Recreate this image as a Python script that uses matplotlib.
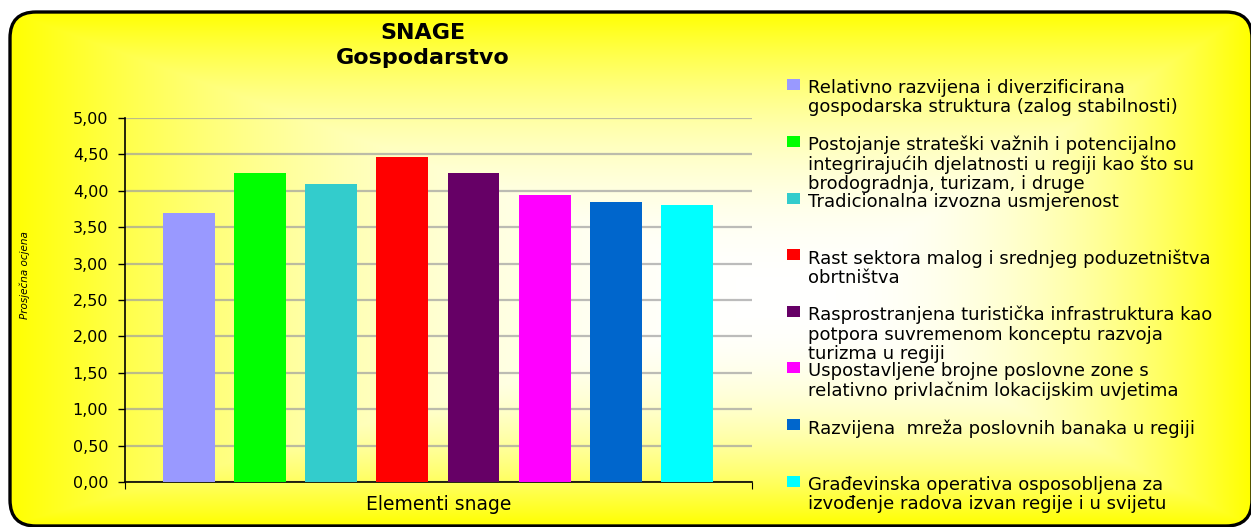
import numpy as np
import matplotlib
matplotlib.use("Agg")
import matplotlib.pyplot as plt
from matplotlib.patches import FancyBboxPatch, Rectangle
from matplotlib.ticker import FuncFormatter

# podaci
naslov = ["SNAGE", "Gospodarstvo"]
kategorija = "Elementi snage"
os_y = "Prosječna ocjena"
elementi = [
    "Relativno razvijena i diverzificirana\ngospodarska struktura (zalog stabilnosti)",
    "Postojanje strateški važnih i potencijalno\nintegrirajućih djelatnosti u regiji kao što su\nbrodogradnja, turizam, i druge",
    "Tradicionalna izvozna usmjerenost",
    "Rast sektora malog i srednjeg poduzetništva\nobrtništva",
    "Rasprostranjena turistička infrastruktura kao\npotpora suvremenom konceptu razvoja\nturizma u regiji",
    "Uspostavljene brojne poslovne zone s\nrelativno privlačnim lokacijskim uvjetima",
    "Razvijena  mreža poslovnih banaka u regiji",
    "Građevinska operativa osposobljena za\nizvođenje radova izvan regije i u svijetu",
]
ocjene = [3.70, 4.24, 4.10, 4.47, 4.24, 3.94, 3.85, 3.80]
boje = ["#9999ff", "#00ff00", "#33cccc", "#ff0000",
        "#660066", "#ff00ff", "#0066cc", "#00ffff"]

W, H = 1251, 527
fig = plt.figure(figsize=(W / 100, H / 100), dpi=100)

# pozadina - zuti gradijent od sredine prema rubu
bg = fig.add_axes([0, 0, 1, 1])
bg.set_xlim(0, W)
bg.set_ylim(H, 0)
bg.axis("off")

yy, xx = np.mgrid[0:H, 0:W] + 0.5
cx, cy = 800, 300
tx = np.where(xx < cx, (cx - xx) / 790, (xx - cx) / 450)
ty = np.where(yy < cy, (cy - yy) / 288, (yy - cy) / 225)
t = np.clip(np.maximum(tx, ty), 0, 1) ** 2.2
slika = np.dstack([np.ones_like(t), np.ones_like(t), 1 - t])
im = bg.imshow(slika, extent=(0, W, H, 0), aspect="auto", interpolation="bilinear")

okvir = FancyBboxPatch((10, 12), 1242, 514, boxstyle="round,pad=0,rounding_size=26",
                       facecolor="none", edgecolor="black", lw=2.4, zorder=5)
bg.add_patch(okvir)
im.set_clip_path(okvir)

# graf
ax = fig.add_axes([125 / W, 1 - 482 / H, (752 - 125) / W, (482 - 118) / H])
ax.set_facecolor("none")
x = np.arange(len(ocjene))
ax.bar(x, ocjene, width=0.73, color=boje, zorder=3)
ax.set_xlim(-0.896, 7.913)
ax.set_ylim(0, 5)
ax.set_yticks(np.arange(0, 5.01, 0.5))
ax.yaxis.set_major_formatter(FuncFormatter(lambda v, p: f"{v:.2f}".replace(".", ",")))
ax.grid(axis="y", color="#a0a0a0", lw=1.6, alpha=0.7, zorder=0)
ax.set_axisbelow(True)
for s in ["top", "right"]:
    ax.spines[s].set_visible(False)
for s in ["left", "bottom"]:
    ax.spines[s].set_color("black")
    ax.spines[s].set_linewidth(1.2)
ax.set_xticks(ax.get_xlim())
ax.tick_params(axis="x", length=5, direction="out", labelbottom=False)
ax.tick_params(axis="y", length=5, width=1, pad=7, labelsize=11.5)

fig.text(439 / W, 1 - 505 / H, kategorija, fontsize=13.5, ha="center", va="center")
fig.text(25 / W, 1 - 275 / H, os_y, rotation=90, style="italic", fontsize=7.5,
         ha="center", va="center")
fig.text(423 / W, 1 - 33 / H, naslov[0], fontsize=16, fontweight="bold",
         ha="center", va="center")
fig.text(423 / W, 1 - 58 / H, naslov[1], fontsize=16, fontweight="bold",
         ha="center", va="center")

# legenda
leg_y = [79, 136, 193, 249, 306, 362, 419, 476]
for y, boja, tekst in zip(leg_y, boje, elementi):
    bg.add_patch(Rectangle((787, y), 13, 11, facecolor=boja, edgecolor="none"))
    bg.text(808, y, tekst, fontsize=13, ha="left", va="top", linespacing=1.08)

fig.savefig("out.png", dpi=100)
